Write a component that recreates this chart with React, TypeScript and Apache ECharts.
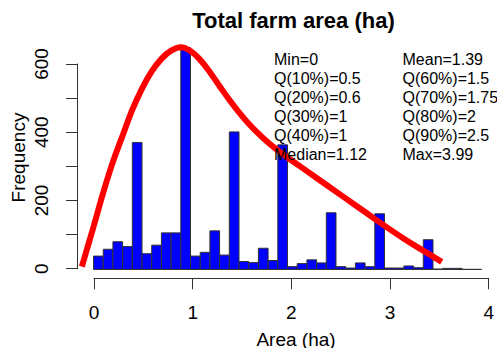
import React, { useEffect, useRef } from "react";
import * as echarts from "echarts";

// Histogram bins (ha) and counts
const binEdges = [
  0, 0.1, 0.2, 0.3, 0.4, 0.5, 0.6, 0.7, 0.8, 0.9, 1.0, 1.1, 1.2, 1.3, 1.4, 1.5, 1.6, 1.7, 1.8, 1.9, 2.0,
  2.1, 2.2, 2.3, 2.4, 2.5, 2.6, 2.7, 2.8, 2.9, 3.0, 3.1, 3.2, 3.3, 3.4, 3.5, 3.6, 3.7, 3.8, 3.9, 4.0,
];
const counts = [
  39, 59, 81, 67, 372, 46, 71, 107, 107, 650, 39, 50, 113, 42, 403, 23, 20, 62, 26, 365, 8, 17, 28, 19,
  166, 8, 4, 19, 8, 163, 4, 4, 10, 5, 87, 1, 3, 3, 0, 0,
];

// Fitted density curve (scaled to frequency)
const curveX = [
  -0.12, -0.1, 0, 0.1, 0.2, 0.3, 0.4, 0.5, 0.6, 0.7, 0.8, 0.9, 1.0, 1.1, 1.2, 1.3, 1.4, 1.5, 1.6, 1.7, 1.8,
  1.9, 2.0, 2.2, 2.4, 2.6, 2.8, 3.0, 3.2, 3.4, 3.59,
];
const curveY = [
  8, 28, 125, 225, 315, 392, 468, 530, 580, 617, 641, 651, 640, 614, 578, 537, 497, 460, 427, 398, 372,
  349, 328, 288, 248, 208, 168, 128, 90, 55, 22,
];

const xTicks = [0, 1, 2, 3, 4];
const yTicks = [0, 100, 200, 300, 400, 500, 600];
const yLabelEvery = 200;

const statsLeft = ["Min=0", "Q(10%)=0.5", "Q(20%)=0.6", "Q(30%)=1", "Q(40%)=1", "Median=1.12"];
const statsRight = ["Mean=1.39", "Q(60%)=1.5", "Q(70%)=1.75", "Q(80%)=2", "Q(90%)=2.5", "Max=3.99"];

const titleText = "Total farm area (ha)";
const xName = "Area (ha)";
const yName = "Frequency";

const FONT = "'Liberation Sans', Arial, Helvetica, sans-serif";

export default function App() {
  const ref = useRef<HTMLDivElement>(null);

  useEffect(() => {
    if (!ref.current) return;
    const chart = echarts.init(ref.current, undefined, { renderer: "svg" });

    const histData = counts.map((c, i) => [binEdges[i], binEdges[i + 1], c]);
    const curveData = curveX.map((x, i) => [x, curveY[i]]);

    const statLines = (arr: string[], left: number) => ({
      type: "text",
      left,
      top: 49.5,
      z: 10,
      style: {
        text: arr.join("\n"),
        font: `16px ${FONT}`,
        lineHeight: 19,
        fill: "#000",
      },
    });

    const option: any = {
      animation: false,
      backgroundColor: "#fff",
      grid: [
        { left: 78, width: 430.8, top: 37.7, height: 240.6 },
        { left: 94, width: 399.3, top: 277.3, height: 1 },
        { left: 77, width: 1, top: 64, height: 204.7 },
      ],
      xAxis: [
        { gridIndex: 0, type: "value", min: -0.16, max: 4.16, show: false },
        {
          gridIndex: 1,
          type: "value",
          min: xTicks[0],
          max: xTicks[xTicks.length - 1],
          interval: 1,
          position: "bottom",
          axisLine: { show: true, lineStyle: { color: "#333", width: 1 } },
          axisTick: { show: true, length: 11, inside: false, lineStyle: { color: "#333" } },
          axisLabel: { fontSize: 19, fontFamily: FONT, color: "#000", margin: 25 },
          splitLine: { show: false },
        },
        { gridIndex: 2, type: "value", show: false },
      ],
      yAxis: [
        { gridIndex: 0, type: "value", min: -26.1, max: 679, show: false },
        { gridIndex: 1, type: "value", show: false },
        {
          gridIndex: 2,
          type: "value",
          min: yTicks[0],
          max: yTicks[yTicks.length - 1],
          interval: 100,
          position: "left",
          axisLine: { show: true, lineStyle: { color: "#333", width: 1 } },
          axisTick: { show: true, length: 11, inside: false, lineStyle: { color: "#333" } },
          axisLabel: {
            fontSize: 19,
            fontFamily: FONT,
            color: "#000",
            rotate: 90,
            margin: 26,
            formatter: (v: number) => (v % yLabelEvery === 0 ? String(v) : ""),
          },
          splitLine: { show: false },
        },
      ],
      series: [
        {
          type: "custom",
          xAxisIndex: 0,
          yAxisIndex: 0,
          clip: false,
          data: histData,
          encode: { x: [0, 1], y: 2 },
          renderItem: (_params: any, api: any) => {
            const p0 = api.coord([api.value(0), api.value(2)]);
            const p1 = api.coord([api.value(1), 0]);
            return {
              type: "rect",
              shape: { x: p0[0], y: p0[1], width: p1[0] - p0[0], height: p1[1] - p0[1] },
              style: { fill: "#0000ff", stroke: "#333", lineWidth: 1 },
            };
          },
          markLine: {
            silent: true,
            symbol: "none",
            label: { show: false },
            lineStyle: { color: "#333", width: 1, type: "solid" },
            data: [[{ coord: [binEdges[0], 0] }, { coord: [binEdges[binEdges.length - 1], 0] }]],
          },
        },
        {
          type: "line",
          xAxisIndex: 0,
          yAxisIndex: 0,
          clip: false,
          data: curveData,
          smooth: 0.4,
          showSymbol: false,
          lineStyle: { color: "#ff0000", width: 6, cap: "butt" },
          z: 5,
        },
      ],
      graphic: [
        {
          type: "text",
          x: 293.5,
          y: 20,
          style: {
            text: titleText,
            font: `bold 22px ${FONT}`,
            fill: "#000",
            textAlign: "center",
            textVerticalAlign: "middle",
          },
        },
        {
          type: "text",
          x: 296,
          y: 339,
          style: {
            text: xName,
            font: `19px ${FONT}`,
            fill: "#000",
            textAlign: "center",
            textVerticalAlign: "middle",
          },
        },
        {
          type: "text",
          x: 18,
          y: 157.5,
          rotation: Math.PI / 2,
          style: {
            text: yName,
            font: `19px ${FONT}`,
            fill: "#000",
            textAlign: "center",
            textVerticalAlign: "middle",
          },
        },
        statLines(statsLeft, 274),
        statLines(statsRight, 402.5),
      ],
    };

    chart.setOption(option);
    return () => chart.dispose();
  }, []);

  return <div ref={ref} style={{ width: 497, height: 348, position: "absolute", left: 0, top: 0 }} />;
}
